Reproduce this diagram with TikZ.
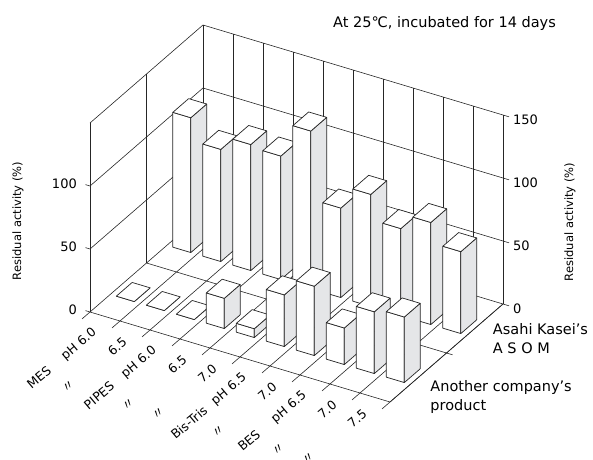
\documentclass[tikz,border=0pt]{standalone}
\usepackage{fontspec}
\setmainfont{DejaVu Sans}
\newfontfamily\cjkfont{Noto Sans CJK JP}
\usetikzlibrary{
    calc
}
\definecolor{sidegray}{RGB}{229,230,232}
\newcommand{\dittomark}{{\cjkfont 〃}}
\tikzset{
    gridline/.style = {
        line width=0.6pt,
        draw=black!85
    },
    barfront/.style = {
        draw=black!85,
        fill=white,
        line width=0.7pt,
        line join=round
    },
    barside/.style = {
        barfront,
        fill=sidegray
    },
    ticklabel/.style = {
        inner sep=0pt,
        font=\fontsize{13}{15}\selectfont
    },
    catlabel/.style = {
        inner sep=0pt,
        rotate=40,
        font=\fontsize{12.5}{14}\selectfont
    },
    rowlabel/.style = {
        inner sep=0pt,
        align=left,
        anchor=west,
        font=\fontsize{14.5}{19}\selectfont
    },
    axistitle/.style = {
        inner sep=0pt,
        rotate=90,
        font=\fontsize{11.5}{13}\selectfont
    }
}
% one bar: category, front depth, height
\newcommand{\drawbar}[3]{%
    \pgfmathsetmacro\xa{#1+0.2}
    \pgfmathsetmacro\xb{#1+0.8}
    \pgfmathsetmacro\za{#2}
    \pgfmathsetmacro\zb{#2+0.14}
    \draw[barfront] (\xa,0,\za) -- (\xb,0,\za) -- (\xb,#3,\za) -- (\xa,#3,\za) -- cycle;
    \draw[barside] (\xb,0,\za) -- (\xb,0,\zb) -- (\xb,#3,\zb) -- (\xb,#3,\za) -- cycle;
    \draw[barfront] (\xa,#3,\za) -- (\xb,#3,\za) -- (\xb,#3,\zb) -- (\xa,#3,\zb) -- cycle;
}
\begin{document}
\begin{tikzpicture}[x={(30pt,-9pt)}, y={(0pt,1.26pt)}, z={(113pt,98pt)}]
\useasboundingbox (-90pt,-147pt) rectangle (503pt,312pt);

% walls
\draw[gridline] (0,0,0) -- (0,150,0);
\draw[gridline] (0,0,0.5) -- (0,150,0.5);
\foreach \j in {0,...,10}
    \draw[gridline] (\j,0,1) -- (\j,150,1);
\foreach \val in {50,100}
    \draw[gridline] (-0.15,\val,0) -- (0,\val,0) -- (0,\val,1) -- (10.2,\val,1);
\draw[gridline] (0,150,0) -- (0,150,1) -- (10.2,150,1);

% floor
\foreach \j in {0,...,10}
    \draw[gridline] (\j,0,-0.07) -- (\j,0,1);
\draw[gridline] (-0.15,0,0) -- (10,0,0) -- (10,0,1);
\draw[gridline] (0,0,0.5) -- (10.2,0,0.5);
\draw[gridline] (0,0,1) -- (10.2,0,1);

% axis numbers
\foreach \val in {0,50,100}
    \node[ticklabel, anchor=east] (lt\val) at ($(0,\val,0)+(-13pt,2.5pt)$) {\val};
\foreach \val in {0,50,100,150}
    \node[ticklabel, anchor=west] (rt\val) at ($(10,\val,1)+(10pt,-4.5pt)$) {\val};
\node[axistitle] (titleleft) at (-72pt,91pt) {Residual activity (\%)};
\node[axistitle] (titleright) at (480pt,90pt) {Residual activity (\%)};
\node[ticklabel, font=\fontsize{14.5}{17}\selectfont, anchor=base west] (title)
    at (243pt,284.5pt) {At 25℃, incubated for 14 days};

% buffers
\foreach \nm/\ph [count=\i from 0] in {MES/pH 6.0, \dittomark/6.5, PIPES/pH 6.0,
    \dittomark/6.5, \dittomark/7.0, Bis-Tris/pH 6.5, \dittomark/7.0, BES/pH 6.5,
    \dittomark/7.0, \dittomark/7.5} {
    \coordinate (cat\i) at (\i+0.5,0,0);
    \node[xshift=-10pt, yshift=-14.5pt, catlabel, anchor=east] (ph\i) at (cat\i) {\ph};
    \node[xshift=-66pt, yshift=-61pt, catlabel] (buf\i) at (cat\i) {\nm};
}

% rows
\coordinate (asom) at (10,0,0.75);
\coordinate (other) at (10,0,0.25);
\node[rowlabel] (asomlabel) at ($(asom)+(18pt,-10pt)$) {Asahi Kasei’s\\A S O M};
\node[rowlabel] (otherlabel) at ($(other)+(12pt,-19pt)$) {Another company’s\\product};

% bars, back row first
\foreach \h [count=\i from 0] in {107,89,100,98,125,71,89,69,81,65}
    {\drawbar{\i}{0.68}{\h}}
\foreach \h [count=\i from 0] in {0,0,0,24,7,41,55,29,49,52}
    {\drawbar{\i}{0.18}{\h}}
\end{tikzpicture}
\end{document}
